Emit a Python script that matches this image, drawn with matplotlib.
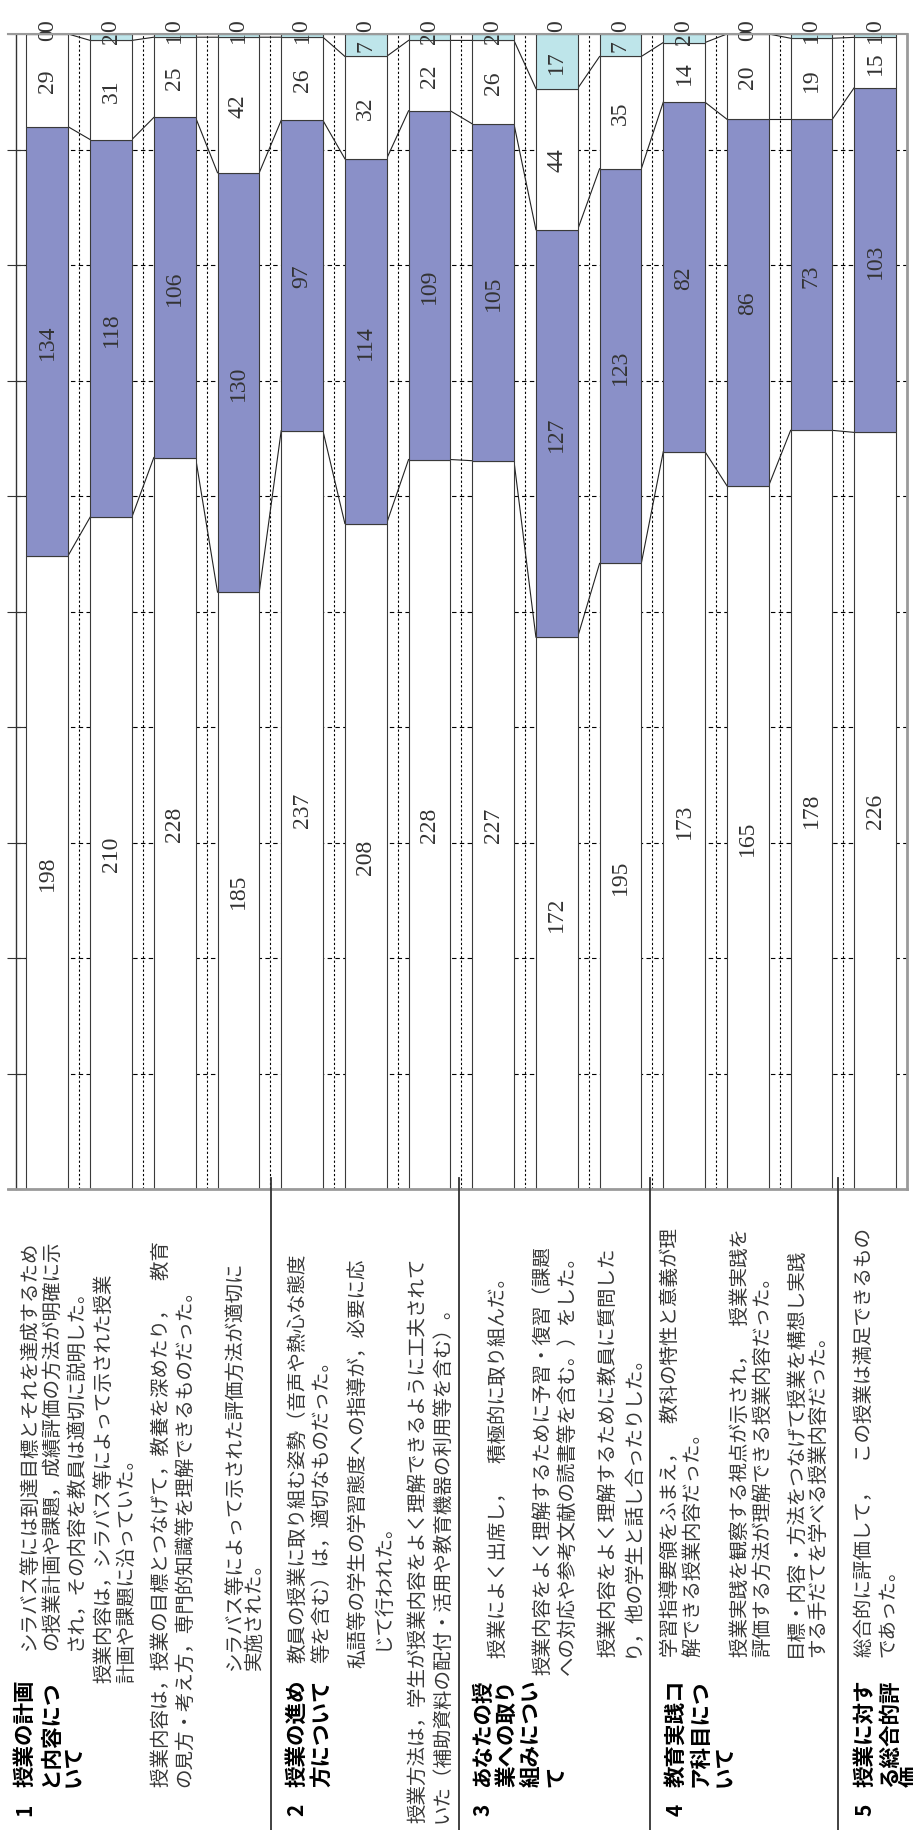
import matplotlib
matplotlib.use('Agg')
import matplotlib.pyplot as plt
import numpy as np

# ---------------- data ----------------
item_lines = [
    ["シラバス等には到達目標とそれを達成するため", "の授業計画や課題，成績評価の方法が明確に示", "され，その内容を教員は適切に説明した。"],
    ["授業内容は，シラバス等によって示された授業", "計画や課題に沿っていた。"],
    ["授業内容は，授業の目標とつなげて，教養を深めたり，　教育", "の見方・考え方，専門的知識等を理解できるものだった。"],
    ["シラバス等によって示された評価方法が適切に", "実施された。"],
    ["教員の授業に取り組む姿勢（音声や熱心な態度", "等を含む）は，適切なものだった。"],
    ["私語等の学生の学習態度への指導が，必要に応", "じて行われた。"],
    ["授業方法は，学生が授業内容をよく理解できるように工夫されて", "いた（補助資料の配付・活用や教育機器の利用等を含む）。"],
    ["授業によく出席し，　積極的に取り組んだ。"],
    ["授業内容をよく理解するために予習・復習（課題", "への対応や参考文献の読書等を含む。）をした。"],
    ["授業内容をよく理解するために教員に質問した", "り，他の学生と話し合ったりした。"],
    ["学習指導要領をふまえ，　教科の特性と意義が理", "解できる授業内容だった。"],
    ["授業実践を観察する視点が示され，　授業実践を", "評価する方法が理解できる授業内容だった。"],
    ["目標・内容・方法をつなげて授業を構想し実践", "する手だてを学べる授業内容だった。"],
    ["総合的に評価して，　この授業は満足できるもの", "であった。"],
]
section_numbers = ["1", "2", "3", "4", "5"]
section_titles = [
    ["授業の計画", "と内容につ", "いて"],
    ["授業の進め", "方について"],
    ["あなたの授", "業への取り", "組みについ", "て"],
    ["教育実践コ", "ア科目につ", "いて"],
    ["授業に対す", "る総合的評", "価"],
]

s1 = [198, 210, 228, 185, 237, 208, 228, 227, 172, 195, 173, 165, 178, 226]
s2 = [134, 118, 106, 130, 97, 114, 109, 105, 127, 123, 82, 86, 73, 103]
s3 = [29, 31, 25, 42, 26, 32, 22, 26, 44, 35, 14, 20, 19, 15]
s4 = [0, 2, 1, 1, 1, 7, 2, 2, 17, 7, 2, 0, 1, 1]
s5 = [0, 0, 0, 0, 0, 0, 0, 0, 0, 0, 0, 0, 0, 0]

# ---------------- layout / style ----------------
W, H = 913, 1831
fig = plt.figure(figsize=(W / 100, H / 100), dpi=100)
fig.patch.set_facecolor('white')

PX_L, PX_R, PX_T, PX_B = 15.5, 907, 35, 1190
ax = fig.add_axes([PX_L / W, 1 - PX_B / H, (PX_R - PX_L) / W, (PX_B - PX_T) / H])
ax.set_zorder(1)
ax.set_facecolor('white')

tab = fig.add_axes([0, 0, 1, 1])
tab.set_zorder(2)
tab.patch.set_alpha(0)
tab.axis('off')
tab.set_xlim(0, W)
tab.set_ylim(H, 0)

JP = ['Noto Sans CJK JP', 'DejaVu Sans']
SERIF = ['Liberation Serif', 'DejaVu Serif']
TXT = '#383838'

series = [s1, s2, s3, s4, s5]
colors = ['white', '#8A90C8', 'white', '#BEE5EA', 'white']
n = len(s1)
x = np.arange(n)
totals = np.sum(np.array(series, dtype=float), axis=0)
bw = 0.655

bottom = np.zeros(n)
tops = []
for k, (s, c) in enumerate(zip(series, colors)):
    p = np.array(s, dtype=float) / totals * 100
    ax.bar(x, p, bottom=bottom, width=bw, color=c, edgecolor='#3a3a3a',
           linewidth=0.8, zorder=3)
    for i in range(n):
        if k < 4:
            yc = bottom[i] + p[i] / 2
        else:
            yc = 100.8
        ax.text(x[i], yc, str(s[i]), rotation=90, ha='center', va='center',
                family=SERIF, fontsize=17, color='#333333', zorder=5)
    bottom = bottom + p
    tops.append(bottom.copy())

# series lines between neighbouring bars
for k in range(4):
    for i in range(n - 1):
        ax.plot([x[i] + bw / 2, x[i + 1] - bw / 2], [tops[k][i], tops[k][i + 1]],
                color='#222222', lw=0.8, zorder=2.5)

# grid
for v in range(10, 100, 10):
    ax.axhline(v, color='black', lw=0.8, ls=(0, (4, 3)), zorder=1)
for i in range(n - 1):
    ax.axvline(i + 0.5, color='black', lw=0.8, ls=(0, (2, 2)), zorder=1)

ax.set_xlim(-0.5, n - 0.5)
ax.set_ylim(0, 100)
ax.set_xticks([])
ax.set_yticks(range(0, 101, 10))
ax.tick_params(axis='y', direction='inout', length=13, width=0.8,
               colors='#333333', labelleft=False)
for side in ['top', 'right', 'bottom']:
    ax.spines[side].set_visible(False)
ax.spines['left'].set_color('#333333')
ax.spines['left'].set_linewidth(1.0)

# plot-area border
tab.plot([8, PX_R], [PX_T, PX_T], color='#9a9a9a', lw=1.5)
tab.plot([8, PX_R], [PX_B, PX_B], color='#9a9a9a', lw=2)
tab.plot([PX_R, PX_R], [PX_T, PX_B], color='#9a9a9a', lw=2)

# section separators of the label table
for xs in [271, 459, 650, 838]:
    tab.plot([xs, xs], [1179, H], color='#333333', lw=1.3)

# section headings
sec_x0 = [25, 297, 483, 676, 865]
for num, title, x0 in zip(section_numbers, section_titles, sec_x0):
    tab.text(x0, 1816, num, rotation=90, ha='center', va='bottom',
             family=JP, fontweight='bold', fontsize=15, color='black')
    for j, line in enumerate(title):
        xl = min(x0 + j * 24.3, W - 3)
        tab.text(xl, 1787, line, rotation=90, ha='center', va='bottom',
                 family=JP, fontweight='bold', fontsize=15.5, color='black')

# item texts
item_x = [[29, 52, 75], [104, 127], [161, 185], [234, 254], [298, 322], [358, 382],
          [418, 442], [498], [543, 567], [608, 632], [670, 693], [740, 763],
          [795, 818], [865, 888]]
item_y = [[1650, 1650, 1650], [1683, 1683], [1787, 1787], [1670, 1670], [1663, 1663],
          [1668, 1650], [1823, 1823], [1658], [1675, 1675], [1657, 1657],
          [1657, 1657], [1657, 1657], [1657, 1657], [1657, 1657]]
for lines, xs, ys in zip(item_lines, item_x, item_y):
    for line, xl, yl in zip(lines, xs, ys):
        tab.text(xl, yl, line, rotation=90, ha='center', va='bottom',
                 family=JP, fontsize=14, color=TXT)

fig.savefig('out.png', dpi=100, facecolor='white')
